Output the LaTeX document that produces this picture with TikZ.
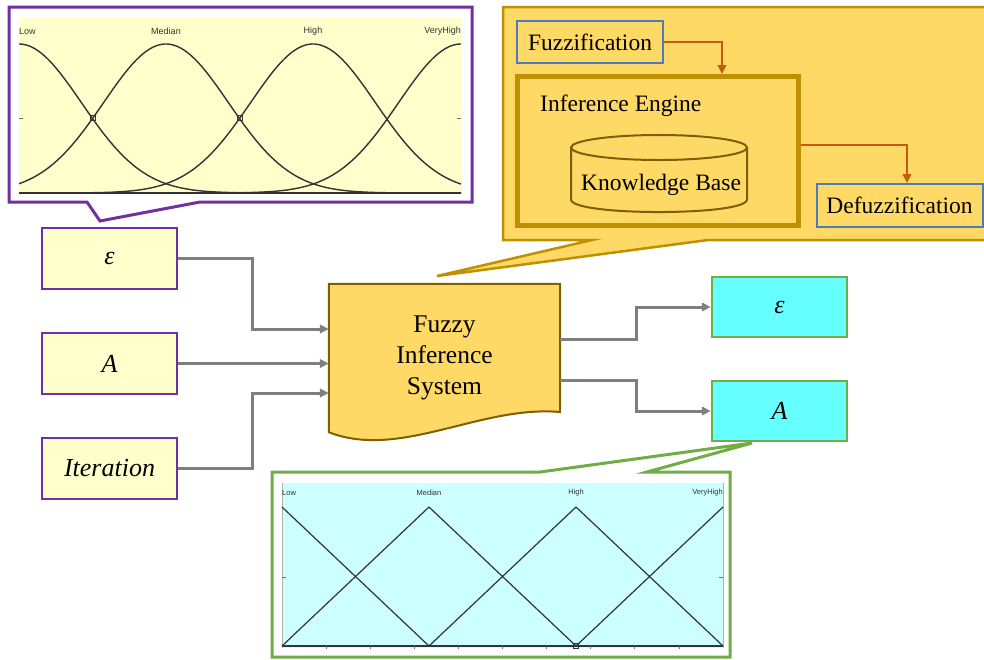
\documentclass[tikz,border=0pt]{standalone}
\usepackage{fontspec}
\setmainfont{Liberation Serif}
\newfontfamily\chartfont{Liberation Sans}
\usetikzlibrary{arrows.meta}

\definecolor{purp}{HTML}{7030A0}
\definecolor{paleyellow}{HTML}{FFFFCC}
\definecolor{gold}{HTML}{FFD966}
\definecolor{goldedge}{HTML}{BF9000}
\definecolor{darkgold}{HTML}{7F6000}
\definecolor{steel}{HTML}{4A7EBB}
\definecolor{rust}{HTML}{C55A11}
\definecolor{aqua}{HTML}{66FFFF}
\definecolor{paleaqua}{HTML}{CCFFFF}
\definecolor{leaf}{HTML}{70AD47}
\definecolor{wire}{HTML}{7F7F7F}
\definecolor{ink}{HTML}{333333}

\begin{document}
\begin{tikzpicture}[x=1pt,y=-1pt,
  inbox/.style={draw=purp, fill=paleyellow, line width=2.5pt, minimum width=135pt,
    minimum height=61pt, inner sep=0pt, font=\fontsize{26}{30}\selectfont\itshape},
  outbox/.style={draw=leaf, fill=aqua, line width=2.5pt, minimum width=135pt,
    minimum height=60pt, inner sep=0pt, font=\fontsize{26}{30}\selectfont\itshape},
  stagebox/.style={draw=steel, line width=2pt, inner sep=0pt,
    font=\fontsize{23.5}{28}\selectfont},
  conn/.style={draw=wire, line width=3pt, -{Triangle[length=9pt,width=8.5pt]}},
  flow/.style={draw=rust, line width=2.5pt, -{Triangle[length=9pt,width=8.5pt]}},
  curve/.style={draw=ink, line width=1.4pt, line join=round},
  tick/.style={draw=ink!70, line width=0.8pt},
  lblA/.style={font=\chartfont\fontsize{9}{10}\selectfont, text=ink, inner sep=0pt},
  lblB/.style={font=\chartfont\fontsize{7.5}{9}\selectfont, text=ink, inner sep=0pt},
  bubble/.style={line width=3pt, line join=miter}]

\useasboundingbox (0,0) rectangle (984,659);
\clip (0,0) rectangle (984,659);

% ---------- callout with the Gaussian membership functions ----------
\draw[bubble, draw=purp, fill=white]
  (9,7) -- (472,7) -- (472,202) -- (200,202) -- (100,221) -- (87,202) -- (9,202) -- cycle;
\fill[paleyellow] (19,18) rectangle (462,194);
\foreach \mu in {19,166,313,461}{
  \draw[curve] plot[domain=19:461, samples=140, smooth]
    (\x, {193-149*exp(-0.5*((\x-\mu)/62.4)^2)});
}
\draw[ink, line width=1.4pt] (19,193) -- (461,193);
\draw[tick] (19,118) -- (23,118);
\draw[tick] (461,118) -- (457,118);
\draw[ink, line width=0.7pt] (90.5,115.5) rectangle (95.5,120.5);
\draw[ink, line width=0.7pt] (237.5,115.5) rectangle (242.5,120.5);
\node[lblA, anchor=west] (gLow) at (19,31) {Low};
\node[lblA] (gMed) at (166,31) {Median};
\node[lblA] (gHigh) at (313,31) {High};
\node[lblA, anchor=east] (gVH) at (461,31) {VeryHigh};

% ---------- callout with the inner structure of the system ----------
\draw[bubble, draw=goldedge, fill=gold, line width=2.5pt]
  (503,7) -- (1000,7) -- (1000,240) -- (708,240) -- (437,276) -- (592,240) -- (503,240) -- cycle;

\node[stagebox, minimum width=146pt, minimum height=42pt] (fuzz) at (590,42) {Fuzzification};
\node[draw=goldedge, line width=5pt, minimum width=281pt, minimum height=149pt,
      inner sep=0pt] (ie) at (658,151) {};
\node[font=\fontsize{23.5}{28}\selectfont, anchor=west, inner sep=0pt] (ietitle)
  at (540,106) {Inference Engine};
\node[stagebox, minimum width=166pt, minimum height=43pt] (defuzz) at (899.5,205.5) {Defuzzification};

% knowledge base cylinder
\fill[gold] (571,147.5) -- (571,199.5) .. controls (571,216.2) and (747,216.2) .. (747,199.5)
  -- (747,147.5) -- cycle;
\draw[darkgold, line width=2pt] (571,147.5) -- (571,199.5)
  .. controls (571,216.2) and (747,216.2) .. (747,199.5) -- (747,147.5);
\draw[darkgold, fill=gold, line width=2pt] (659,147.5) ellipse [x radius=88pt, y radius=12.5pt];
\node[font=\fontsize{23.5}{28}\selectfont, inner sep=0pt] (kb) at (661,185) {Knowledge Base};

\draw[flow] (fuzz.east) -| (722,0 |- ie.north);
\draw[flow] (ie.east |- 0,145) -| (907,0 |- defuzz.north);

% ---------- callout with the triangular membership functions ----------
\draw[bubble, draw=leaf, fill=white]
  (272,472) -- (540,472) -- (752,443) -- (647,472) -- (730,472) -- (730,657) -- (272,657) -- cycle;
\fill[paleaqua] (282,483) rectangle (723,648);
\draw[gray!60, line width=0.8pt] (282,483) -- (282,648);
\draw[gray!60, line width=0.8pt] (723,483) -- (723,648);
\draw[curve, line width=1.2pt] (282,507) -- (429,646);
\draw[curve, line width=1.2pt] (282,646) -- (429,507) -- (576,646);
\draw[curve, line width=1.2pt] (429,646) -- (576,507) -- (723,646);
\draw[curve, line width=1.2pt] (576,646) -- (723,507);
\draw[ink, line width=1.2pt] (282,646) -- (723,646);
\foreach \i in {1,...,9}{
  \draw[tick] ({282+44.1*\i},646) -- ++(0,3);
}
\draw[tick] (282,577) -- (286,577);
\draw[tick] (723,577) -- (719,577);
\draw[ink, line width=0.7pt] (573.5,643.5) rectangle (578.5,648.5);
\node[lblB, anchor=west] (tLow) at (282,493) {Low};
\node[lblB] (tMed) at (429,493) {Median};
\node[lblB] (tHigh) at (576,493) {High};
\node[lblB, anchor=east] (tVH) at (723,493) {VeryHigh};

% ---------- inputs ----------
\node[inbox] (ein) at (109.5,258.5) {ε};
\node[inbox] (ain) at (109.5,363.5) {A};
\node[inbox] (itin) at (109.5,468.5) {Iteration};

% ---------- fuzzy inference system (document shape with a wavy bottom) ----------
\node[minimum width=231pt, minimum height=148pt, inner sep=0pt] (fis) at (444.5,358) {};
\draw[darkgold, fill=gold, line width=2pt, line join=miter]
  (fis.north west) -- (fis.north east) -- (560,412)
  .. controls (480,405) and (400,460) .. (fis.south west) -- cycle;
\node[inner sep=0pt, align=center, font=\fontsize{25.5}{31}\selectfont] (fistext)
  at (fis.center) {Fuzzy\\Inference\\System};

% ---------- outputs ----------
\node[outbox] (eout) at (779.5,307) {ε};
\node[outbox] (aout) at (779.5,411) {A};

% ---------- connectors ----------
\draw[conn] (ein.east) -| (252,329) -- (fis.west |- 0,329);
\draw[conn] (ain.east) -- (fis.west |- ain.east);
\draw[conn] (itin.east) -| (252,393) -- (fis.west |- 0,393);
\draw[conn] (fis.east |- 0,339) -| (636,307) -- (eout.west);
\draw[conn] (fis.east |- 0,380) -| (636,411) -- (aout.west);
\end{tikzpicture}
\end{document}
